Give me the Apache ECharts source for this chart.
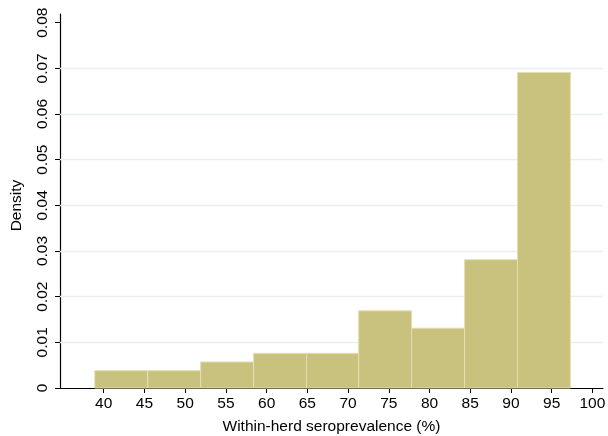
<!DOCTYPE html>
<html>
<head>
<meta charset="utf-8">
<script src="https://cdn.jsdelivr.net/npm/echarts@6/dist/echarts.min.js"></script>
<style>
  html, body { margin: 0; padding: 0; background: #ffffff; }
  #chart { width: 608px; height: 436px; }
</style>
</head>
<body>
<div id="chart"></div>
<script>
// Histogram bin edges (within-herd seroprevalence, %)
const binEdges = [38.9, 45.4, 51.9, 58.4, 64.9, 71.3, 77.8, 84.3, 90.8, 97.3];
// Density of each bin
const densities = [0.0038, 0.0038, 0.0057, 0.0076, 0.0076, 0.0169, 0.0131, 0.0281, 0.0691];
// Axis tick labels
const xTicks = [40, 45, 50, 55, 60, 65, 70, 75, 80, 85, 90, 95, 100];
const yTicks = [0, 0.01, 0.02, 0.03, 0.04, 0.05, 0.06, 0.07, 0.08];
const yGrid = [0.01, 0.02, 0.03, 0.04, 0.05, 0.06, 0.07];

const bins = densities.map((d, i) => [binEdges[i], binEdges[i + 1], d]);

const font = '"Liberation Sans", Arial, Helvetica, sans-serif';
const fs = 15.5;
const chart = echarts.init(document.getElementById('chart'), null, { renderer: 'canvas' });

chart.setOption({
  animation: false,
  backgroundColor: '#ffffff',
  grid: { left: 60, right: 5, top: 14, bottom: 48, containLabel: false, outerBoundsMode: 'none' },
  xAxis: {
    type: 'value',
    min: 34.63,
    max: 101.3,
    name: 'Within-herd seroprevalence (%)',
    nameLocation: 'middle',
    nameGap: 31,
    nameTextStyle: { fontFamily: font, fontSize: fs, color: '#000' },
    axisLine: { show: true, lineStyle: { color: '#000', width: 1.2 } },
    axisTick: { show: true, length: 5, lineStyle: { color: '#000' }, customValues: xTicks },
    axisLabel: { fontFamily: font, fontSize: fs, color: '#000', margin: 8, customValues: xTicks },
    splitLine: { show: false }
  },
  yAxis: {
    type: 'value',
    min: 0,
    max: 0.0819,
    name: 'Density',
    nameLocation: 'middle',
    nameGap: 35,
    nameTextStyle: { fontFamily: font, fontSize: fs, color: '#000', padding: [0, 9, 0, 0] },
    axisLine: { show: true, lineStyle: { color: '#000', width: 1.2 } },
    axisTick: { show: true, length: 5, lineStyle: { color: '#000' }, customValues: yTicks },
    axisLabel: {
      fontFamily: font, fontSize: fs, color: '#000', rotate: 90, margin: 9,
      customValues: yTicks,
      formatter: v => (v === 0 ? '0' : v.toFixed(2))
    },
    splitLine: { show: false }
  },
  series: [
    {
      // horizontal reference lines
      type: 'line',
      data: [],
      z: 1,
      silent: true,
      markLine: {
        silent: true,
        symbol: 'none',
        label: { show: false },
        lineStyle: { color: '#e8eff0', width: 1.3, type: 'solid' },
        data: yGrid.map(v => ({ yAxis: v }))
      }
    },
    {
      type: 'custom',
      z: 5,
      data: bins,
      encode: { x: [0, 1], y: 2 },
      renderItem: function (params, api) {
        const p0 = api.coord([api.value(0), 0]);
        const p1 = api.coord([api.value(1), api.value(2)]);
        return {
          type: 'rect',
          shape: { x: p0[0], y: p1[1], width: p1[0] - p0[0], height: p0[1] - p1[1] },
          style: { fill: '#c9c27f', stroke: '#e2dfb2', lineWidth: 1 }
        };
      }
    }
  ]
});
</script>
</body>
</html>
